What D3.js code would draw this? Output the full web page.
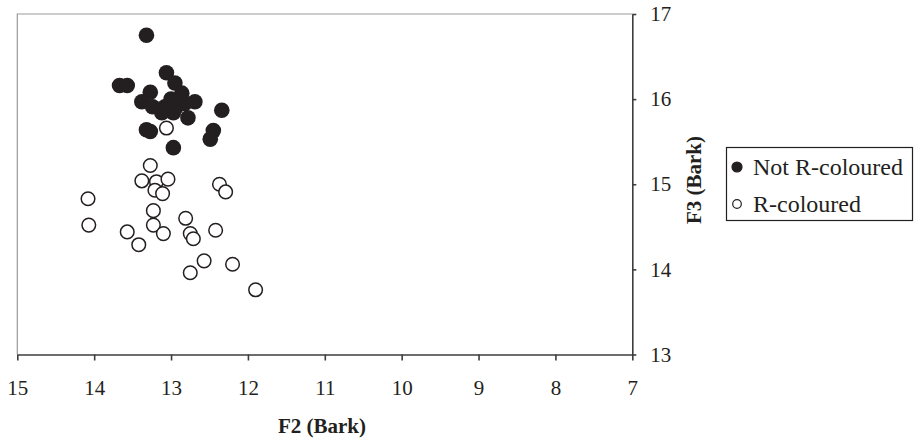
<!DOCTYPE html>
<html>
<head>
<meta charset="utf-8">
<script src="https://cdnjs.cloudflare.com/ajax/libs/d3/7.8.5/d3.min.js"></script>
<style>
    body { margin: 0; background: #fff; }
    svg text { font-family: "Liberation Serif", "Times New Roman", serif; fill: #231f20; }
</style>
</head>
<body>
<div id="main"></div>
<script>
var ctx = {
    w: 914,
    h: 442,
    left: 17.3,
    right: 632.3,
    top: 14,
    bottom: 354.5,
};

// F2, F3 (Bark)
var notRF2 = [13.32, 13.67, 13.57, 13.06, 12.95, 13.27, 12.86, 13.38, 12.69, 13.24, 13.08, 12.93,
              12.97, 13.12, 12.78, 12.34, 13.32, 13.27, 12.45, 12.49, 12.97, 12.82, 13.0];
var notRF3 = [16.75, 16.16, 16.16, 16.31, 16.19, 16.08, 16.07, 15.97, 15.97, 15.91, 15.91, 15.91,
              15.84, 15.84, 15.78, 15.87, 15.64, 15.62, 15.63, 15.53, 15.43, 15.95, 16.0];

var rF2 = [13.06, 13.27, 13.38, 13.19, 13.04, 13.21, 13.11, 14.08, 12.37, 12.29, 13.23, 14.07,
           13.23, 12.81, 13.57, 13.10, 12.75, 12.71, 12.42, 13.42, 12.57, 12.20, 12.75, 11.90];
var rF3 = [15.66, 15.22, 15.04, 15.03, 15.06, 14.93, 14.89, 14.83, 15.00, 14.91, 14.69, 14.52,
           14.52, 14.60, 14.44, 14.42, 14.42, 14.36, 14.46, 14.29, 14.10, 14.06, 13.96, 13.76];

var xTicks = [15, 14, 13, 12, 11, 10, 9, 8, 7];
var yTicks = [13, 14, 15, 16, 17];
var seriesNames = ["Not R-coloured", "R-coloured"];

var createViz = function () {
    var svg = d3.select("#main").append("svg")
        .attr("width", ctx.w)
        .attr("height", ctx.h);

    var x = d3.scaleLinear().domain([15, 7]).range([ctx.left, ctx.right]);
    var y = d3.scaleLinear().domain([13, 17]).range([ctx.bottom, ctx.top]);

    // light frame on top and left
    svg.append("path")
        .attr("d", "M" + ctx.left + "," + ctx.bottom + "V" + ctx.top + "H" + ctx.right)
        .attr("fill", "none")
        .attr("stroke", "#9a9a9a")
        .attr("stroke-width", 1.2);

    var xAxis = svg.append("g")
        .attr("transform", "translate(0," + ctx.bottom + ")")
        .call(d3.axisBottom(x).tickValues(xTicks).tickFormat(d3.format("d"))
            .tickSize(6).tickSizeOuter(0).tickPadding(20));
    var yAxis = svg.append("g")
        .attr("transform", "translate(" + ctx.right + ",0)")
        .call(d3.axisRight(y).tickValues(yTicks).tickFormat(d3.format("d"))
            .tickSize(4).tickSizeOuter(0).tickPadding(14));

    [xAxis, yAxis].forEach(function (g) {
        g.selectAll("path, line").attr("stroke", "#3d3d3d").attr("stroke-width", 1.6);
        g.selectAll("text")
            .style("font-family", "'Liberation Serif', serif")
            .style("font-size", "21px")
            .attr("fill", "#231f20");
    });

    svg.append("text")
        .attr("x", 322)
        .attr("y", 433)
        .attr("text-anchor", "middle")
        .style("font-size", "21px")
        .style("font-weight", "bold")
        .text("F2 (Bark)");

    svg.append("text")
        .attr("transform", "translate(701," + y(15.05) + ") rotate(-90)")
        .attr("text-anchor", "middle")
        .style("font-size", "21px")
        .style("font-weight", "bold")
        .text("F3 (Bark)");

    var notR = notRF2.map(function (v, i) { return { f2: v, f3: notRF3[i] }; });
    var rCol = rF2.map(function (v, i) { return { f2: v, f3: rF3[i] }; });

    svg.append("g")
        .selectAll("circle")
        .data(rCol)
        .enter()
        .append("circle")
        .attr("cx", function (d) { return x(d.f2); })
        .attr("cy", function (d) { return y(d.f3); })
        .attr("r", 6.8)
        .attr("fill", "#fff")
        .attr("stroke", "#231f20")
        .attr("stroke-width", 1.5);

    svg.append("g")
        .selectAll("circle")
        .data(notR)
        .enter()
        .append("circle")
        .attr("cx", function (d) { return x(d.f2); })
        .attr("cy", function (d) { return y(d.f3); })
        .attr("r", 7.8)
        .attr("fill", "#231f20");

    // legend
    var lg = svg.append("g");
    lg.append("rect")
        .attr("x", 726.5).attr("y", 147.5)
        .attr("width", 186).attr("height", 73)
        .attr("fill", "#fff")
        .attr("stroke", "#231f20")
        .attr("stroke-width", 1.2);

    var items = lg.selectAll("g.item")
        .data(seriesNames)
        .enter()
        .append("g")
        .attr("class", "item")
        .attr("transform", function (d, i) { return "translate(737," + (167 + i * 37) + ")"; });

    items.append("circle")
        .attr("r", function (d, i) { return i === 0 ? 5 : 4.3; })
        .attr("fill", function (d, i) { return i === 0 ? "#231f20" : "#fff"; })
        .attr("stroke", "#231f20")
        .attr("stroke-width", 1.2);

    items.append("text")
        .attr("x", 16)
        .attr("y", 8)
        .style("font-size", "24px")
        .text(function (d) { return d; });
};

createViz();
</script>
</body>
</html>
